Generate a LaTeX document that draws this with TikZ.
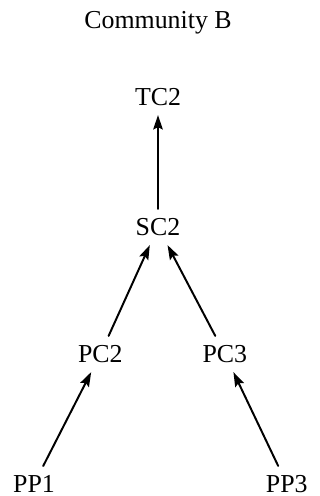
\documentclass[tikz,border=0pt]{standalone}
\usepackage{fontspec}
\setmainfont{Liberation Serif}
\usetikzlibrary{arrows.meta}
\begin{document}
\begin{tikzpicture}[font=\fontsize{18.4}{22}\selectfont,line join=round,line cap=round,
		>={Stealth[length=3.6mm,width=2.4mm,inset=0.6mm]},
		vert/.style={inner sep=6.5pt}]
	\useasboundingbox (0,0) rectangle (8,12.4);
	\path
	(3.95,11.675) node[anchor=base] (title) {Community B}
	(3.95,9.975) node[vert] (tc2) {TC2}
	(3.95,6.725) node[vert] (sc2) {SC2}
	(2.51,3.55) node[vert] (pc2) {PC2}
	(5.62,3.55) node[vert] (pc3) {PC3}
	(0.85,0.3) node[vert] (pp1) {PP1}
	(7.17,0.3) node[vert] (pp3) {PP3}
	;
	\draw[->,line width=1.4pt] (sc2)--(tc2);
	\draw[->,line width=1.4pt] (pc2)--(sc2);
	\draw[->,line width=1.4pt] (pc3)--(sc2);
	\draw[->,line width=1.4pt] (pp1)--(pc2);
	\draw[->,line width=1.4pt] (pp3)--(pc3);
\end{tikzpicture}
\end{document}
